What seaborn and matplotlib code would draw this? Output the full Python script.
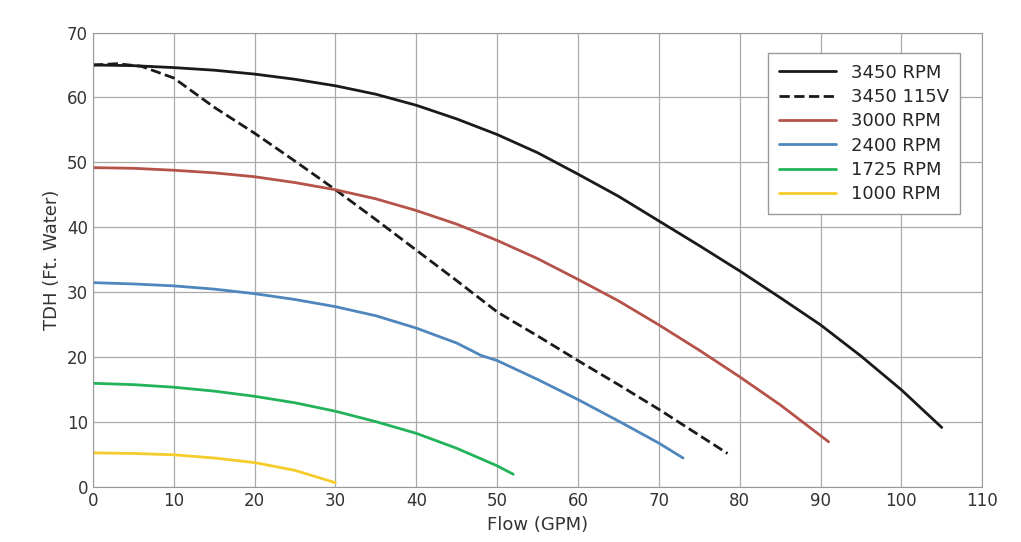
import matplotlib
matplotlib.use("Agg")
import matplotlib.pyplot as plt
import seaborn as sns
import pandas as pd

flow_3450 = [0, 5, 10, 15, 20, 25, 30, 35, 40, 45, 50, 55, 60, 65, 70, 75, 80, 85, 90, 95, 100, 105]
tdh_3450 = [65, 64.9, 64.6, 64.2, 63.6, 62.8, 61.8, 60.5, 58.8, 56.7, 54.3, 51.5, 48.2, 44.8, 41, 37.2, 33.3, 29.2, 25, 20.2, 15, 9.2]
flow_115 = [0, 3, 6, 10, 15, 20, 25, 30, 35, 40, 45, 50, 52, 55, 60, 65, 70, 78.5]
tdh_115 = [65, 65.2, 64.8, 63, 58.5, 54.5, 50.2, 45.8, 41.2, 36.5, 31.8, 27, 25.5, 23.3, 19.5, 15.8, 12, 5.2]
flow_3000 = [0, 5, 10, 15, 20, 25, 30, 35, 40, 45, 50, 55, 60, 65, 70, 75, 80, 85, 91]
tdh_3000 = [49.2, 49.1, 48.8, 48.4, 47.8, 46.9, 45.8, 44.4, 42.6, 40.5, 38, 35.2, 32, 28.7, 25, 21.1, 17, 12.7, 7]
flow_2400 = [0, 5, 10, 15, 20, 25, 30, 35, 40, 45, 48, 50, 55, 60, 65, 70, 73]
tdh_2400 = [31.5, 31.3, 31, 30.5, 29.8, 28.9, 27.8, 26.4, 24.5, 22.2, 20.3, 19.5, 16.6, 13.5, 10.2, 6.8, 4.5]
flow_1725 = [0, 5, 10, 15, 20, 25, 30, 35, 40, 45, 50, 52]
tdh_1725 = [16, 15.8, 15.4, 14.8, 14, 13, 11.7, 10.1, 8.3, 6.0, 3.3, 2]
flow_1000 = [0, 5, 10, 15, 20, 25, 30]
tdh_1000 = [5.3, 5.2, 5, 4.5, 3.8, 2.6, 0.7]

series = [
    ("3450 RPM", flow_3450, tdh_3450, "#1a1a1a", "-"),
    ("3450 115V", flow_115, tdh_115, "#1a1a1a", "--"),
    ("3000 RPM", flow_3000, tdh_3000, "#b5534a", "-"),
    ("2400 RPM", flow_2400, tdh_2400, "#4f86bd", "-"),
    ("1725 RPM", flow_1725, tdh_1725, "#22b35a", "-"),
    ("1000 RPM", flow_1000, tdh_1000, "#f5cc2a", "-"),
]

sns.set_style("white")
fig, ax = plt.subplots(figsize=(10.21, 5.42), dpi=100)
for name, x, y, c, ls in series:
    df = pd.DataFrame({"x": x, "y": y})
    sns.lineplot(data=df, x="x", y="y", ax=ax, color=c, linestyle=ls, lw=2, label=name)

ax.set_xlim(0, 110)
ax.set_ylim(0, 70)
ax.set_xticks(range(0, 111, 10))
ax.set_yticks(range(0, 71, 10))
ax.grid(True, color="#aaaaaa", lw=0.9)
for s in ax.spines.values():
    s.set_color("#999999")
ax.tick_params(labelsize=12, colors="#333333", length=0)
ax.set_xlabel("Flow (GPM)", fontsize=13, color="#333333")
ax.set_ylabel("TDH (Ft. Water)", fontsize=13, color="#333333")
leg = ax.legend(loc="upper right", bbox_to_anchor=(0.985, 0.975), fontsize=13,
                fancybox=False, framealpha=1, edgecolor="#999999",
                handlelength=3.2, labelspacing=0.35, borderpad=0.6)
fig.subplots_adjust(left=0.091, right=0.962, top=0.94, bottom=0.101)
fig.savefig("out.png")
